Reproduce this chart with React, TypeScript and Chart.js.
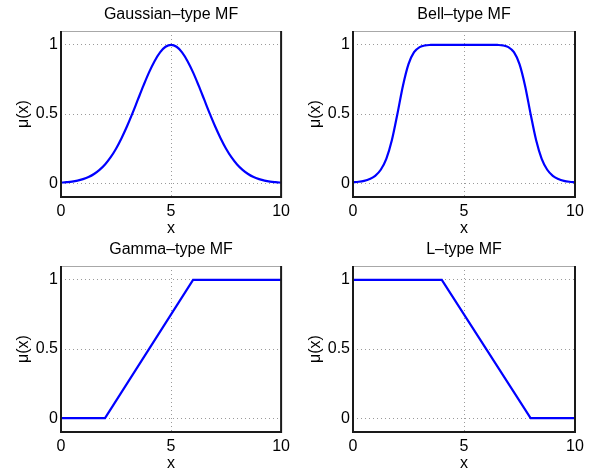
import React, { useEffect, useRef } from 'react';
import { Chart, registerables } from 'chart.js';

Chart.register(...registerables);

// ---- data ----
const X_SMOOTH = [
  0, 0.25, 0.5, 0.75, 1, 1.25, 1.5, 1.75, 2, 2.25, 2.5, 2.75, 3, 3.25, 3.5, 3.75, 4, 4.25, 4.5, 4.75,
  5, 5.25, 5.5, 5.75, 6, 6.25, 6.5, 6.75, 7, 7.25, 7.5, 7.75, 8, 8.25, 8.5, 8.75, 9, 9.25, 9.5, 9.75, 10,
];
const GAUSSIAN_MU = [
  0.004, 0.007, 0.011, 0.018, 0.029, 0.044, 0.066, 0.096, 0.135, 0.186, 0.249, 0.325, 0.411, 0.506, 0.607, 0.707, 0.801, 0.882, 0.946, 0.986,
  1.0, 0.986, 0.946, 0.882, 0.801, 0.707, 0.607, 0.506, 0.411, 0.325, 0.249, 0.186, 0.135, 0.096, 0.066, 0.044, 0.029, 0.018, 0.011, 0.007, 0.004,
];
const BELL_MU = [
  0.006, 0.010, 0.017, 0.030, 0.053, 0.097, 0.176, 0.310, 0.5, 0.705, 0.861, 0.947, 0.983, 0.996, 0.999, 1.0, 1.0, 1.0, 1.0, 1.0,
  1.0, 1.0, 1.0, 1.0, 1.0, 1.0, 0.999, 0.996, 0.983, 0.947, 0.861, 0.705, 0.5, 0.310, 0.176, 0.097, 0.053, 0.030, 0.017, 0.010, 0.006,
];
const GAMMA_X = [0, 2, 6, 10];
const GAMMA_MU = [0, 0, 1, 1];
const L_X = [0, 4, 8, 10];
const L_MU = [1, 1, 0, 0];

const X_TICKS = [0, 5, 10];
const X_TICK_LABELS = ['0', '5', '10'];
const Y_TICKS = [0, 0.5, 1];
const Y_TICK_LABELS = ['0', '0.5', '1'];
const TITLES = ['Gaussian–type MF', 'Bell–type MF', 'Gamma–type MF', 'L–type MF'];
const X_LABEL = 'x';
const Y_LABEL = 'μ(x)';

const FONT = 'Liberation Sans, Arial, Helvetica, sans-serif';

type Panel = {
  title: string;
  xs: number[];
  ys: number[];
  smooth: boolean;
  left: number;
  top: number;
  width: number;
  height: number;
  padRight: number;
};

const PANELS: Panel[] = [
  { title: TITLES[0], xs: X_SMOOTH, ys: GAUSSIAN_MU, smooth: true, left: 0, top: 0, width: 295, height: 240, padRight: 12 },
  { title: TITLES[1], xs: X_SMOOTH, ys: BELL_MU, smooth: true, left: 292, top: 0, width: 298, height: 240, padRight: 15 },
  { title: TITLES[2], xs: GAMMA_X, ys: GAMMA_MU, smooth: false, left: 0, top: 235, width: 295, height: 240, padRight: 12 },
  { title: TITLES[3], xs: L_X, ys: L_MU, smooth: false, left: 292, top: 235, width: 298, height: 240, padRight: 15 },
];

const AREA_LEFT = 61;
const AREA_TOP = 31;
const AREA_BOTTOM = 197;

const framePlugin = {
  id: 'frame',
  afterDraw(chart: any) {
    const { ctx, chartArea: a } = chart;
    ctx.save();
    ctx.setLineDash([]);
    // thin light top edge
    ctx.strokeStyle = '#a8a8a8';
    ctx.lineWidth = 1;
    ctx.beginPath();
    ctx.moveTo(a.left, a.top + 0.5);
    ctx.lineTo(a.right, a.top + 0.5);
    ctx.stroke();
    // dark left, bottom, right edges
    ctx.strokeStyle = '#1a1a1a';
    ctx.lineWidth = 2;
    ctx.beginPath();
    ctx.moveTo(a.left, a.top);
    ctx.lineTo(a.left, a.bottom);
    ctx.lineTo(a.right, a.bottom);
    ctx.lineTo(a.right, a.top);
    ctx.stroke();
    ctx.restore();
  },
};

function Plot({ p }: { p: Panel }) {
  const ref = useRef<HTMLCanvasElement | null>(null);
  useEffect(() => {
    if (!ref.current) return;
    const data = p.xs.map((x, i) => ({ x, y: p.ys[i] }));
    const chart = new Chart(ref.current, {
      type: 'line',
      data: {
        datasets: [
          {
            data,
            borderColor: '#0000ff',
            borderWidth: 2.2,
            pointRadius: 0,
            fill: false,
            cubicInterpolationMode: p.smooth ? 'monotone' : 'default',
            tension: 0,
          },
        ],
      },
      options: {
        animation: false,
        responsive: false,
        maintainAspectRatio: false,
        devicePixelRatio: 1,
        layout: { padding: { left: 0, top: 0, right: p.padRight, bottom: 0 } },
        plugins: {
          legend: { display: false },
          tooltip: { enabled: false },
          title: {
            display: true,
            text: p.title,
            fullSize: false,
            color: '#000',
            font: { family: FONT, size: 16, weight: 'normal' },
            padding: { top: 4.5, bottom: AREA_TOP - 4.5 - 19.2 },
          },
        },
        scales: {
          x: {
            type: 'linear',
            min: 0,
            max: 10,
            afterBuildTicks: (s: any) => {
              s.ticks = X_TICKS.map((v) => ({ value: v }));
            },
            afterFit: (s: any) => {
              s.height = p.height - AREA_BOTTOM;
            },
            ticks: {
              color: '#000',
              padding: 5,
              maxRotation: 0,
              font: { family: FONT, size: 16 },
              callback: (v: any) => X_TICK_LABELS[X_TICKS.indexOf(Number(v))] ?? '',
            },
            grid: { color: '#9a9a9a', lineWidth: 1, drawTicks: false },
            border: { display: false, dash: [1, 3] },
            title: {
              display: true,
              text: X_LABEL,
              color: '#000',
              font: { family: FONT, size: 16 },
              padding: { top: 0, bottom: 1.5 },
            },
          },
          y: {
            type: 'linear',
            min: -0.1,
            max: 1.1,
            afterBuildTicks: (s: any) => {
              s.ticks = Y_TICKS.map((v) => ({ value: v }));
            },
            afterFit: (s: any) => {
              s.width = AREA_LEFT;
            },
            ticks: {
              color: '#000',
              padding: 3,
              font: { family: FONT, size: 16 },
              callback: (v: any) => Y_TICK_LABELS[Y_TICKS.indexOf(Number(v))] ?? '',
            },
            grid: { color: '#9a9a9a', lineWidth: 1, drawTicks: false },
            border: { display: false, dash: [1, 3] },
            title: {
              display: true,
              text: Y_LABEL,
              color: '#000',
              font: { family: FONT, size: 16 },
              padding: { top: 14, bottom: 0 },
            },
          },
        },
      },
      plugins: [framePlugin],
    } as any);
    return () => chart.destroy();
  }, [p]);
  return (
    <canvas
      ref={ref}
      width={p.width}
      height={p.height}
      style={{ position: 'absolute', left: p.left, top: p.top, width: p.width, height: p.height }}
    />
  );
}

export default function App() {
  return (
    <div
      style={{
        position: 'absolute',
        left: 0,
        top: 0,
        width: 590,
        height: 471,
        overflow: 'hidden',
        background: '#fff',
      }}
    >
      {PANELS.map((p, i) => (
        <Plot key={i} p={p} />
      ))}
    </div>
  );
}
